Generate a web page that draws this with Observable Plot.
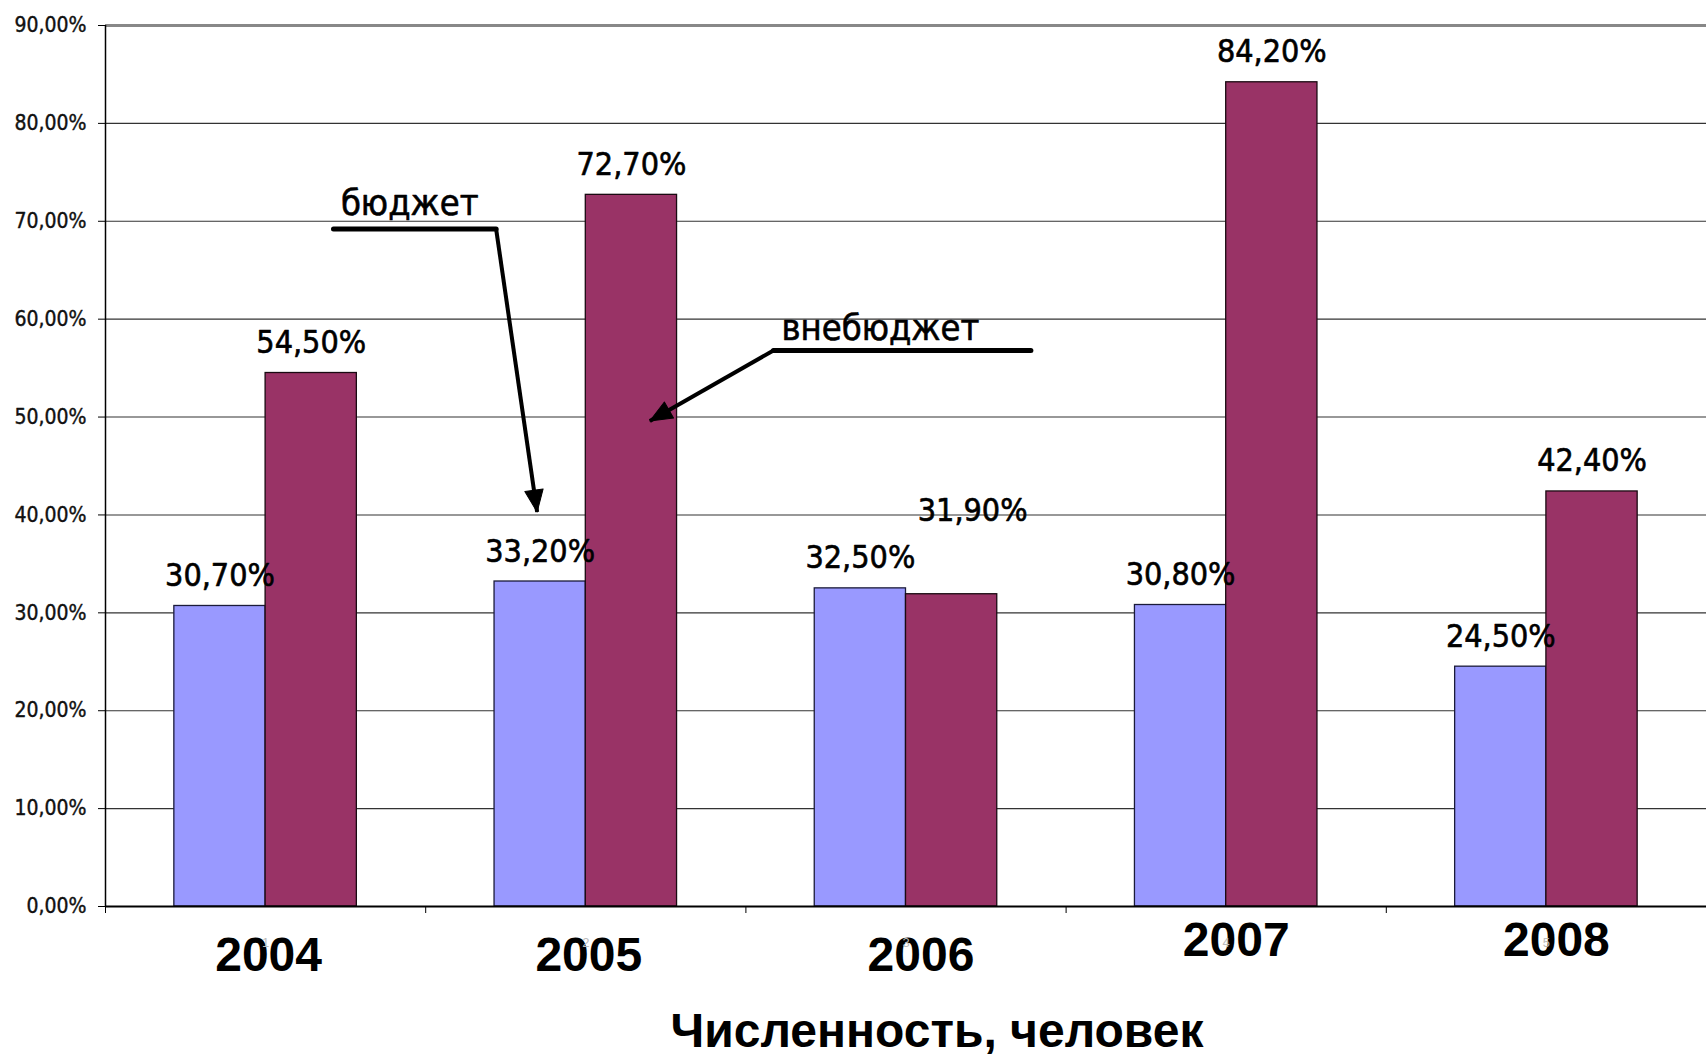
<!DOCTYPE html>
<html>
<head>
<meta charset="utf-8">
<script src="https://cdn.jsdelivr.net/npm/d3@7"></script>
<script src="https://cdn.jsdelivr.net/npm/@observablehq/plot@0.6"></script>
<style>
  html, body { margin: 0; padding: 0; background: #ffffff; }
  #chart svg { display: block; }
</style>
</head>
<body>
<div id="chart"></div>
<script>
// ---- data ----
const years = ["2004", "2005", "2006", "2007", "2008"];
const budget = [30.7, 33.2, 32.5, 30.8, 24.5];        // бюджет
const offBudget = [54.5, 72.7, 31.9, 84.2, 42.4];     // внебюджет
const seriesNames = ["бюджет", "внебюджет"];
const yTicks = [0, 10, 20, 30, 40, 50, 60, 70, 80, 90];
const categoryNumbers = ["1", "2", "3", "4", "5"];
const axisTitle = "Численность, человек";

// annotation anchors (data coordinates: x = category index units, y = percent)
const budgetNote = { x: 0.95, y: 70.6 };
const budgetLeader = [[0.712, 69.2], [1.22, 69.2]];
const budgetArrow = { x1: 1.22, y1: 69.2, x2: 1.348, y2: 40.3 };
const offNote = { x: 2.42, y: 57.9 };
const offLeader = [[2.89, 56.8], [2.086, 56.8]];
const offArrow = { x1: 2.086, y1: 56.8, x2: 1.70, y2: 49.6 };

// ---- layout / style ----
const W = 1706, H = 1054;
const M = { top: 25, bottom: 148, left: 105, right: 0 };
const groupPad = 0.215;           // empty share on each side of a bar pair
const narrow = "'Liberation Sans Narrow', 'Arial Narrow', 'DejaVu Sans Condensed', sans-serif";
const bold = "'Liberation Sans', Arial, sans-serif";
const blue = "#9999FF", wine = "#993366";

const rows = years.map((year, i) => ({ year, i, budget: budget[i], off: offBudget[i], num: categoryNumbers[i] }));
const pct = v => v.toFixed(2).replace(".", ",") + "%";

// pixel size of one data unit, used only to orient the arrowheads
const kx = (W - M.left - M.right) / 5;
const ky = (H - M.top - M.bottom) / 90;
const heading = a => Math.atan2((a.x2 - a.x1) * kx, (a.y2 - a.y1) * ky) * 180 / Math.PI;
const arrows = [budgetArrow, offArrow].map(a => ({ ...a, angle: heading(a) }));

// filled triangular arrowhead, tip at the anchor
const headShape = {
  draw(context, l, r) {
    const w = l * 0.42;
    context.moveTo(0, -l);
    context.lineTo(-w, 0);
    context.lineTo(w, 0);
    context.closePath();
  }
};

const labelStyle = { fontFamily: narrow, fontSize: 32, fill: "#000", lineAnchor: "bottom", stroke: "#000", strokeWidth: 0.6 };
const yearStyle = { fontFamily: bold, fontWeight: "bold", fontSize: 48, fill: "#000" };

const chart = Plot.plot({
  width: W,
  height: H,
  marginTop: M.top,
  marginBottom: M.bottom,
  marginLeft: M.left,
  marginRight: M.right,
  style: { background: "#ffffff", overflow: "visible" },
  x: { domain: [0, 5], axis: null },
  y: { domain: [0, 90], axis: null },
  marks: [
    // gridlines
    Plot.ruleY(yTicks.filter(t => t > 0 && t < 90), { stroke: "#333333", strokeWidth: 1.1 }),
    Plot.ruleY([90], { stroke: "#888888", strokeWidth: 3 }),
    // y axis
    Plot.axisY({
      ticks: yTicks,
      tickFormat: pct,
      tickSize: 7,
      tickPadding: 12,
      fontSize: 21,
      fontFamily: narrow,
      stroke: "#000",
      fill: "#111",
      textStroke: "#111",
      textStrokeWidth: 0.4
    }),
    Plot.ruleX([0], { y1: 0, y2: 90, stroke: "#000", strokeWidth: 1.5 }),
    // bars
    Plot.rectY(rows, {
      x1: d => d.i + groupPad, x2: d => d.i + 0.5, y: "budget",
      fill: blue, stroke: "#1b1b3a", strokeWidth: 1.3, title: d => `${seriesNames[0]} ${d.year}`
    }),
    Plot.rectY(rows, {
      x1: d => d.i + 0.5, x2: d => d.i + 1 - groupPad, y: "off",
      fill: wine, stroke: "#1a0a12", strokeWidth: 1.3, title: d => `${seriesNames[1]} ${d.year}`
    }),
    // x axis line and category boundary ticks
    Plot.ruleY([0], { stroke: "#000", strokeWidth: 2.2 }),
    Plot.axisX({ ticks: [0, 1, 2, 3, 4, 5], tickSize: 7, tickFormat: () => "", stroke: "#000" }),
    // value labels
    Plot.text(rows, { x: d => d.i + (groupPad + 0.5) / 2, y: "budget", text: d => pct(d.budget), dy: -20, ...labelStyle }),
    Plot.text(rows.filter(d => d.i !== 2), { x: d => d.i + (1.5 - groupPad) / 2, y: "off", text: d => pct(d.off), dy: -20, ...labelStyle }),
    Plot.text(rows.filter(d => d.i === 2), { x: d => d.i + (1.5 - groupPad) / 2, y: "off", text: d => pct(d.off), dy: -73, dx: 21, ...labelStyle }),
    // year labels (text boxes placed over the category axis)
    Plot.text(rows.filter(d => d.i < 2), { x: d => d.i + 0.5, y: 0, text: "year", dy: 49, dx: 3, ...yearStyle }),
    Plot.text(rows.filter(d => d.i === 2), { x: d => d.i + 0.5, y: 0, text: "year", dy: 49, dx: 15, ...yearStyle }),
    Plot.text(rows.filter(d => d.i >= 3), { x: d => d.i + 0.5, y: 0, text: "year", dy: 34, dx: 10, ...yearStyle }),
    // original small category numbers
    Plot.text(rows, { x: d => d.i + 0.5, y: 0, text: "num", dy: 36, fontSize: 13, fontFamily: bold, fill: "#bbbbbb" }),
    // axis title
    Plot.text([axisTitle], { frameAnchor: "bottom", dx: 31, dy: 140, fontFamily: bold, fontWeight: "bold", fontSize: 48, fill: "#000" }),
    // annotations
    Plot.line(budgetLeader, { x: d => d[0], y: d => d[1], stroke: "#000", strokeWidth: 5 }),
    Plot.line(offLeader, { x: d => d[0], y: d => d[1], stroke: "#000", strokeWidth: 5 }),
    Plot.link(arrows, { x1: "x1", y1: "y1", x2: "x2", y2: "y2", stroke: "#000", strokeWidth: 4 }),
    Plot.vector(arrows, { x: "x2", y: "y2", rotate: "angle", length: 22, anchor: "end", shape: headShape, fill: "#000", stroke: "#000", strokeWidth: 1 }),
    Plot.text([budgetNote], { x: "x", y: "y", text: () => seriesNames[0], fontFamily: narrow, fontSize: 36, lineAnchor: "bottom", fill: "#000", stroke: "#000", strokeWidth: 0.6 }),
    Plot.text([offNote], { x: "x", y: "y", text: () => seriesNames[1], fontFamily: narrow, fontSize: 36, lineAnchor: "bottom", fill: "#000", stroke: "#000", strokeWidth: 0.6 })
  ]
});

document.getElementById("chart").appendChild(chart);
</script>
</body>
</html>
